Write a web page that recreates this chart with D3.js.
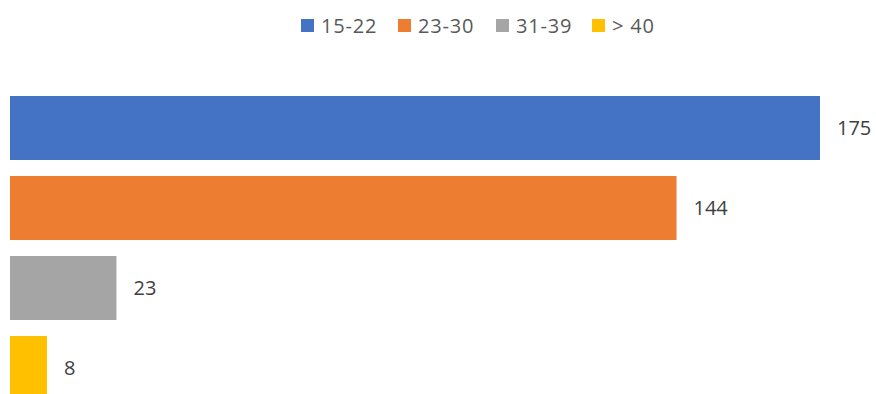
<!DOCTYPE html>
<html>
<head>
<meta charset="utf-8">
<script src="https://cdn.jsdelivr.net/npm/d3@7"></script>
<style>
  html, body { margin: 0; padding: 0; background: #fff; }
  svg { display: block; font-family: "Open Sans", "Liberation Sans", sans-serif; }
</style>
</head>
<body>
<svg id="chart" width="876" height="394"></svg>
<script>
const categories = ["15-22", "23-30", "31-39", "> 40"];
const values = [175, 144, 23, 8];
const colors = ["#4472C4", "#ED7D31", "#A5A5A5", "#FFC000"];

const svg = d3.select("#chart");
const W = 876, H = 394;

const x = d3.scaleLinear().domain([0, 175]).range([10, 820]);
const y = d3.scaleBand().domain(categories).range([88, 408]).paddingInner(0.2).paddingOuter(0.1);

svg.append("g").selectAll("rect")
  .data(categories)
  .join("rect")
  .attr("x", x(0))
  .attr("y", d => y(d))
  .attr("width", (d, i) => x(values[i]) - x(0))
  .attr("height", y.bandwidth())
  .attr("fill", (d, i) => colors[i]);

svg.append("g").selectAll("text")
  .data(categories)
  .join("text")
  .attr("x", (d, i) => x(values[i]) + 17)
  .attr("y", d => y(d) + y.bandwidth() / 2)
  .attr("dy", "0.35em")
  .attr("font-size", 20)
  .attr("fill", "#404040")
  .text((d, i) => values[i]);

// legend
const legendX = [301, 398, 496, 592];
const lg = svg.append("g");
categories.forEach((c, i) => {
  lg.append("rect")
    .attr("x", legendX[i]).attr("y", 19)
    .attr("width", 13).attr("height", 13)
    .attr("fill", colors[i]);
  lg.append("text")
    .attr("x", legendX[i] + 20).attr("y", 25.5)
    .attr("dy", "0.35em")
    .attr("font-size", 20)
    .attr("letter-spacing", 0.8)
    .attr("fill", "#595959")
    .text(c);
});
</script>
</body>
</html>
